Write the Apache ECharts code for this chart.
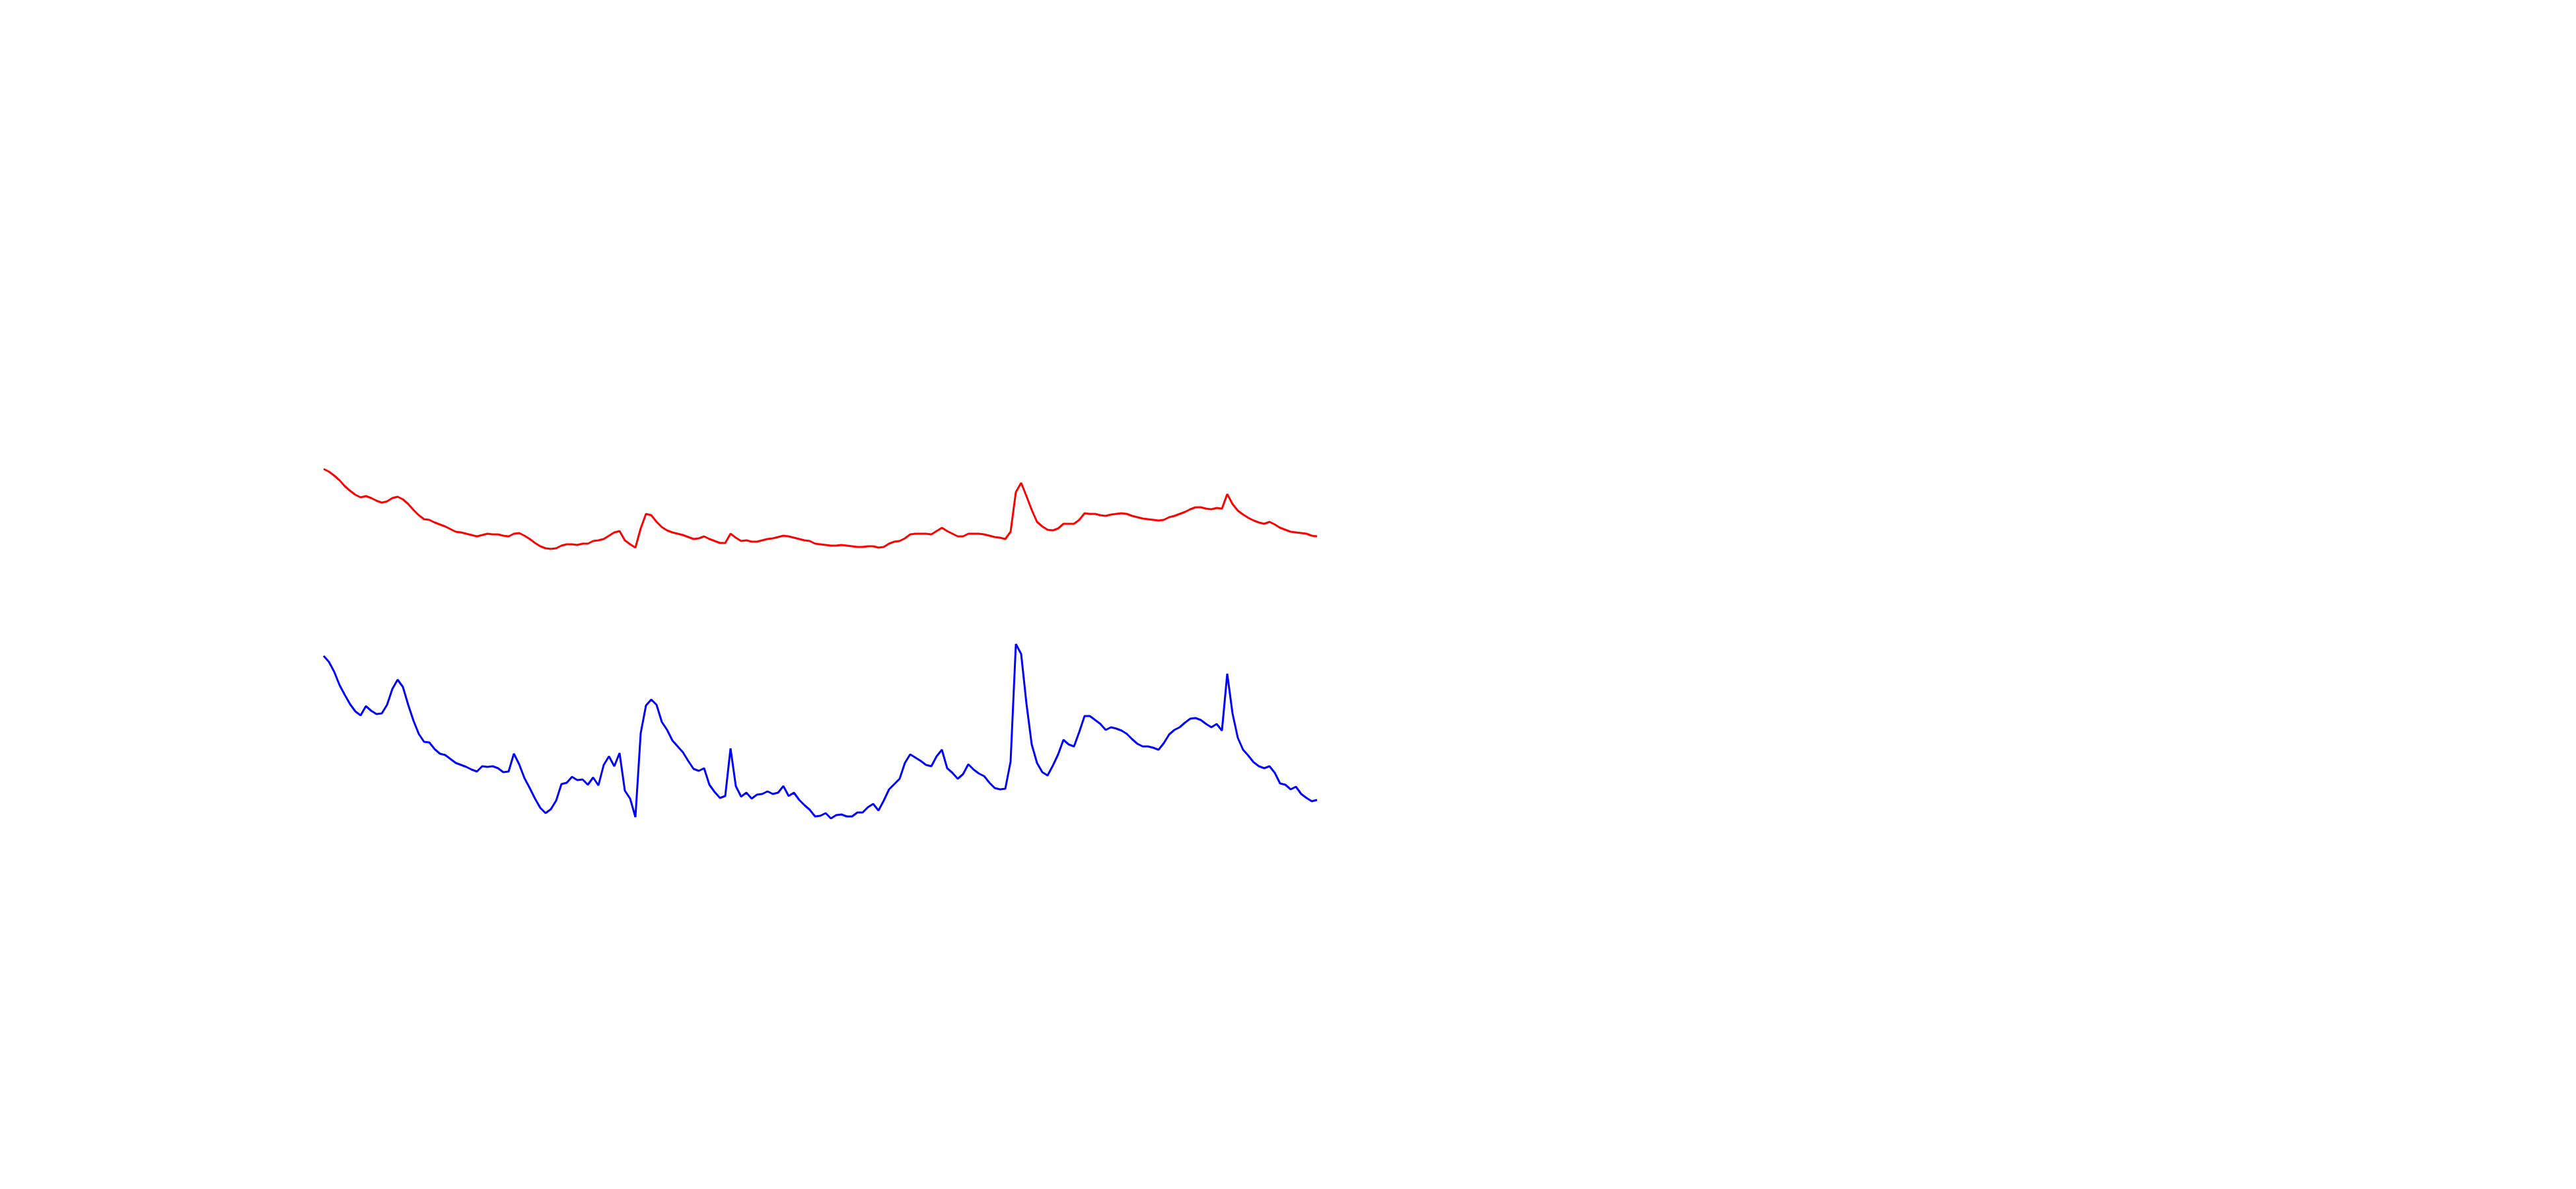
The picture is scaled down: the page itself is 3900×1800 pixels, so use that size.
<!DOCTYPE html>
<html>
<head>
<meta charset="utf-8">
<script src="https://cdn.jsdelivr.net/npm/echarts@6/dist/echarts.min.js"></script>
<style>
html,body{margin:0;padding:0;background:#ffffff;}
#chart{width:3900px;height:1800px;}
</style>
</head>
<body>
<div id="chart"></div>
<script>
// Values (arbitrary units, no axis shown)
const redValues = [
59.0,58.6,58.0,57.3,56.4,55.7,55.1,54.7,54.9,54.6,
54.2,53.9,54.1,54.6,54.8,54.4,53.7,52.8,52.0,51.4,
51.3,50.9,50.6,50.3,49.9,49.5,49.4,49.2,49.0,48.8,
49.0,49.2,49.1,49.1,48.9,48.8,49.2,49.3,48.9,48.4,
47.8,47.3,47.0,46.9,47.0,47.4,47.6,47.6,47.5,47.7,
47.7,48.1,48.2,48.4,48.9,49.4,49.6,48.2,47.6,47.1,
50.0,52.2,52.0,51.0,50.2,49.7,49.4,49.2,49.0,48.7,
48.4,48.5,48.8,48.4,48.1,47.8,47.8,49.2,48.6,48.1,
48.2,48.0,48.0,48.2,48.4,48.5,48.7,48.9,48.8,48.6,
48.4,48.2,48.1,47.7,47.6,47.5,47.4,47.4,47.5,47.4,
47.3,47.2,47.2,47.3,47.3,47.1,47.2,47.7,48.0,48.1,
48.5,49.1,49.2,49.2,49.2,49.1,49.6,50.1,49.6,49.2,
48.8,48.8,49.2,49.2,49.2,49.1,48.9,48.7,48.6,48.4,
49.5,55.5,56.9,54.9,52.8,51.0,50.3,49.8,49.7,50.0,
50.7,50.7,50.7,51.3,52.3,52.2,52.2,52.0,51.9,52.1,
52.2,52.3,52.2,51.9,51.7,51.5,51.4,51.3,51.2,51.3,
51.7,51.9,52.2,52.5,52.9,53.2,53.2,53.0,52.9,53.1,
53.0,55.2,53.7,52.7,52.1,51.6,51.2,50.9,50.7,51.0,
50.6,50.1,49.8,49.5,49.4,49.3,49.2,48.9,48.8
];
const blueValues = [
30.7,29.8,28.3,26.3,24.8,23.4,22.3,21.7,23.1,22.4,
21.9,22.0,23.3,25.7,27.1,26.0,23.3,20.9,18.9,17.7,
17.6,16.6,15.9,15.7,15.1,14.5,14.2,13.9,13.5,13.2,
14.0,13.9,14.0,13.7,13.1,13.2,15.9,14.3,12.2,10.7,
9.1,7.7,6.9,7.5,8.8,11.3,11.5,12.4,11.9,12.0,
11.2,12.3,11.1,14.2,15.5,14.0,16.0,10.3,9.1,6.3,
19.0,23.2,24.1,23.3,20.7,19.5,17.9,17.0,16.1,14.8,
13.6,13.3,13.7,11.2,10.1,9.2,9.5,16.7,11.0,9.4,
10.0,9.1,9.7,9.8,10.2,9.8,10.0,11.0,9.5,10.0,
8.9,8.1,7.4,6.4,6.5,6.9,6.1,6.6,6.7,6.4,
6.4,7.0,7.0,7.8,8.3,7.3,8.8,10.5,11.3,12.1,
14.5,15.8,15.3,14.8,14.2,14.0,15.5,16.5,13.7,13.0,
12.1,12.8,14.3,13.5,12.9,12.5,11.5,10.7,10.5,10.6,
14.7,32.5,31.0,23.5,17.3,14.5,13.1,12.6,14.1,15.8,
18.0,17.3,17.0,19.2,21.6,21.6,21.0,20.4,19.5,19.9,
19.7,19.4,18.9,18.1,17.4,17.0,17.0,16.8,16.5,17.5,
18.8,19.5,19.9,20.6,21.2,21.3,21.0,20.4,19.9,20.4,
19.4,28.0,22.0,18.3,16.5,15.6,14.6,14.0,13.7,14.0,
13.0,11.4,11.2,10.5,10.9,9.8,9.2,8.7,8.9
];
const categories = redValues.map((_, i) => String(i));

const chart = echarts.init(document.getElementById('chart'), null, {renderer: 'canvas'});
chart.setOption({
  backgroundColor: '#ffffff',
  animation: false,
  grid: {left: 490, right: 1906, top: 0, bottom: 500},
  xAxis: {type: 'category', data: categories, boundaryGap: false, show: false},
  yAxis: {type: 'value', min: 0, max: 130, show: false},
  series: [
    {type: 'line', data: redValues, symbol: 'none', smooth: false,
     lineStyle: {color: '#ff0000', width: 3}},
    {type: 'line', data: blueValues, symbol: 'none', smooth: false,
     lineStyle: {color: '#0000ff', width: 3}}
  ]
});
</script>
</body>
</html>
